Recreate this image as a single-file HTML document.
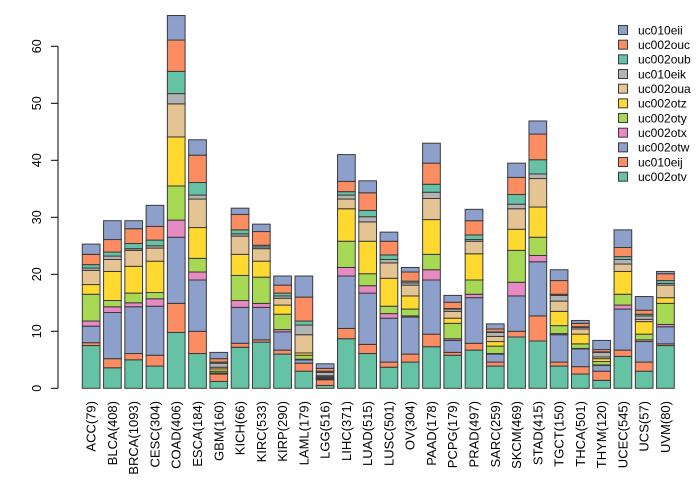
<!DOCTYPE html>
<html><head><meta charset="utf-8"><style>
html,body{margin:0;padding:0;background:#fff;}
svg{display:block;font-family:"Liberation Sans",sans-serif;}
</style></head><body>
<svg id="chart" width="700" height="480" viewBox="0 0 700 480" xmlns="http://www.w3.org/2000/svg">
<g id="axis"></g>
<g id="bars"></g>
<g id="xlabels"></g>
<g id="legend"></g>
</svg>
<script>
const categories = ["ACC(79)","BLCA(408)","BRCA(1093)","CESC(304)","COAD(406)","ESCA(184)","GBM(160)","KICH(66)","KIRC(533)","KIRP(290)","LAML(179)","LGG(516)","LIHC(371)","LUAD(515)","LUSC(501)","OV(304)","PAAD(178)","PCPG(179)","PRAD(497)","SARC(259)","SKCM(469)","STAD(415)","TGCT(150)","THCA(501)","THYM(120)","UCEC(545)","UCS(57)","UVM(80)"];
const seriesNames = ["uc002otv","uc010eij","uc002otw","uc002otx","uc002oty","uc002otz","uc002oua","uc010eik","uc002oub","uc002ouc","uc010eii"];
const seriesColors = ["#66C2A5","#FC8D62","#8DA0CB","#E78AC3","#A6D854","#FFD92F","#E5C494","#B3B3B3","#66C2A5","#FC8D62","#8DA0CB"];
const uc002otv = [7.5,3.6,5.0,3.9,9.8,6.1,1.2,7.2,8.1,6.0,3.0,0.5,8.7,6.1,3.7,4.6,7.3,5.8,6.7,3.9,9.0,8.3,3.9,2.5,1.4,5.6,3.0,7.5];
const uc010eij = [0.5,1.6,1.1,1.9,5.1,3.9,1.3,0.7,0.4,0.7,1.4,1.0,1.8,1.6,0.9,1.4,2.2,0.5,1.2,0.7,1.0,4.4,0.7,1.3,1.6,1.1,1.6,0.3];
const uc002otw = [2.9,8.1,8.2,8.6,11.6,9.0,0.1,6.3,5.7,3.2,0.6,0.1,9.2,9.0,7.7,6.5,9.5,2.1,8.0,1.4,6.2,9.5,4.8,3.1,1.0,7.2,3.6,3.0];
const uc002otx = [0.9,1.0,0.7,1.3,3.0,1.4,0.1,1.2,0.7,0.4,0.1,0.1,1.5,1.3,0.8,0.2,1.8,0.3,0.6,0.1,2.4,1.1,0.2,0.1,0.1,0.7,0.3,0.4];
const uc002oty = [4.7,1.1,1.7,1.1,6.0,2.4,0.3,4.4,4.6,2.7,0.7,0.1,4.6,2.1,1.3,1.2,2.7,2.7,2.5,1.3,5.6,3.2,1.4,0.8,0.6,1.9,1.0,3.7];
const uc002otz = [1.7,5.1,4.7,5.5,8.6,5.4,0.4,3.7,2.8,1.6,0.4,0.2,5.7,5.7,4.9,2.3,6.1,0.9,4.6,0.8,3.7,5.3,2.5,1.7,0.5,4.0,2.2,1.0];
const uc002oua = [2.5,2.1,2.8,2.3,5.8,5.0,0.3,3.2,2.2,1.2,3.2,0.2,1.7,3.4,2.7,1.9,3.7,1.2,2.2,0.9,3.6,5.0,1.8,0.9,0.3,1.3,0.4,2.2];
const uc010eik = [0.4,0.6,0.3,0.4,1.8,0.7,0.7,0.4,0.3,0.4,1.7,0.6,0.7,0.9,0.6,0.4,1.1,0.4,0.3,0.7,0.8,0.8,1.0,0.3,0.8,0.8,0.6,0.3];
const uc002oub = [0.6,0.7,0.9,1.0,3.9,2.2,0.2,0.7,0.3,0.5,0.7,0.2,0.6,1.1,0.8,0.3,1.4,0.1,0.8,0.1,1.7,2.5,0.2,0.1,0.1,0.5,0.3,0.5];
const uc002ouc = [1.8,2.2,2.6,2.4,5.5,4.8,0.6,2.7,2.4,1.4,4.2,0.5,1.8,3.1,2.4,1.6,3.7,1.1,2.5,0.5,3.0,4.5,2.4,0.6,0.4,1.6,0.7,1.2];
const uc010eii = [1.8,3.3,1.4,3.7,4.3,2.7,1.1,1.1,1.3,1.6,3.7,0.8,4.7,2.1,1.6,0.8,3.5,1.2,2.0,0.9,2.5,2.3,1.9,0.5,1.6,3.1,2.4,0.4];
const yTicks = [0,10,20,30,40,50,60];

const series = [uc002otv,uc010eij,uc002otw,uc002otx,uc002oty,uc002otz,uc002oua,uc010eik,uc002oub,uc002ouc,uc010eii];
const NS = "http://www.w3.org/2000/svg";
const y0 = 388.3, pxPerUnit = 5.7;
function yScale(v){ return y0 - v*pxPerUnit; }
const step = 21.27, barW = 17.7, left0 = 82.3;
function xLeft(i){ return left0 + i*step; }
function mk(tag, attrs, parent){
  const e = document.createElementNS(NS, tag);
  for (const k in attrs) e.setAttribute(k, attrs[k]);
  parent.appendChild(e); return e;
}
const axis = document.getElementById('axis');
const axLine = mk('line',{x1:58,x2:58,y1:yScale(yTicks[0]),y2:yScale(yTicks[yTicks.length-1]),stroke:'#000','stroke-width':1},axis);


yTicks.forEach(t=>{
  const tk = mk('line',{x1:51,x2:58,y1:yScale(t),y2:yScale(t),stroke:'#000','stroke-width':1},axis);
  
  
  const tx = mk('text',{x:0,y:0,'font-size':12.5,'text-anchor':'middle',transform:`translate(41,${yScale(t)}) rotate(-90)`,fill:'#000'},axis);
  
  
  tx.textContent = t;
});
const bars = document.getElementById('bars');
categories.forEach((c,i)=>{
  let cum = 0;
  series.forEach((s,j)=>{
    const v = s[i];
    const r = mk('rect',{x:xLeft(i),y:yScale(cum+v),width:barW,height:v*pxPerUnit,fill:seriesColors[j],stroke:'#3a3a3a','stroke-width':1},bars);
    
    
    cum += v;
  });
  const lab = mk('text',{x:0,y:0,'font-size':13,'text-anchor':'end',transform:`translate(${xLeft(i)+barW/2+4.5},401) rotate(-90)`,fill:'#000'},document.getElementById('xlabels'));
  
  
  lab.textContent = c;
});
const legend = document.getElementById('legend');
for (let k=0;k<seriesNames.length;k++){
  const j = seriesNames.length-1-k;
  const cy = 30 + k*14.67;
  const sw = mk('rect',{x:618.5,y:cy-4.5,width:9,height:9,fill:seriesColors[j],stroke:'#3a3a3a','stroke-width':1},legend);
  
  
  const t = mk('text',{x:638,y:cy+4.3,'font-size':12,fill:'#000'},legend);
  
  
  t.textContent = seriesNames[j];
}
</script>
</body></html>
